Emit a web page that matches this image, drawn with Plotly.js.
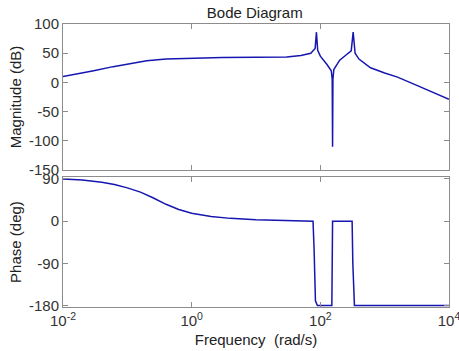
<!DOCTYPE html>
<html>
<head>
<meta charset="utf-8">
<script src="https://cdn.plot.ly/plotly-3.0.1.min.js"></script>
<style>html,body{margin:0;padding:0;background:#fff;}#chart{width:459px;height:351px;}</style>
</head>
<body>
<div id="chart"></div>
<script>
// Magnitude response (rad/s, dB)
const magFreq = [0.01, 0.02, 0.03, 0.06, 0.1, 0.2, 0.4, 1, 3, 10, 30, 50, 71, 83, 87, 91, 100, 126, 148, 153, 155, 157, 162, 200, 251, 302, 324, 347, 398, 603, 1000, 1585, 3162, 10000];
const magDb   = [10, 16, 20, 27, 31, 37, 40, 41.5, 42.5, 43, 43.5, 46, 50, 58, 86, 55, 45, 31, 20, 5, -110, 5, 22, 38, 47, 54, 86, 50, 40, 25, 16, 9, -5, -29];
// Phase response (rad/s, deg)
const phaseFreq = [0.01, 0.02, 0.04, 0.063, 0.1, 0.16, 0.25, 0.4, 0.63, 1, 2, 4, 10, 30, 77, 80, 84, 90, 151, 153, 155, 312, 320, 339, 10000];
const phaseDeg  = [90, 88, 83, 78, 71, 62, 50, 36, 25, 17, 10, 6, 3, 1, 0, -60, -170, -180, -180, -90, 0, 0, -90, -180, -180];
// Axis ticks
const freqTickVals = [0.01, 1, 100, 10000];
const freqTickText = ['10<sup>-2</sup>', '10<sup>0</sup>', '10<sup>2</sup>', '10<sup>4</sup>'];
const magTicks = [-150, -100, -50, 0, 50, 100];
const magTickText = ['-150', '-100', '-50', '0', '50', '100'];
const phaseTicks = [-180, -90, 0, 90];
const phaseTickText = ['-180', '-90', '0', '90'];

const lineColor = '#1616b0';
const frame = '#8c8c8c';
const fam = 'Liberation Sans, Arial, sans-serif';
const font = {family: fam, size: 15, color: '#333'};
const tfont = {family: fam, size: 15, color: '#222'};

const baseX = {
  type: 'log', range: [-2, 4.0001], tickvals: freqTickVals, ticktext: freqTickText,
  ticks: 'inside', ticklen: 5, tickcolor: frame, showline: true, linecolor: frame, linewidth: 1,
  mirror: 'ticks', showgrid: false, zeroline: false, ticklabeloverflow: 'allow'
};
const baseY = {
  ticks: 'inside', ticklen: 5, tickcolor: frame, showline: true, linecolor: frame, linewidth: 1,
  mirror: 'ticks', showgrid: false, zeroline: false
};

const data = [
  {x: magFreq, y: magDb, xaxis: 'x', yaxis: 'y', mode: 'lines', line: {color: lineColor, width: 1.5}},
  {x: phaseFreq, y: phaseDeg, xaxis: 'x2', yaxis: 'y2', mode: 'lines', line: {color: lineColor, width: 1.5}}
];

const layout = {
  width: 459, height: 351,
  margin: {l: 63, r: 10, t: 24, b: 44},
  paper_bgcolor: '#fff', plot_bgcolor: '#fff',
  showlegend: false,
  font: font,
  title: {text: 'Bode Diagram', x: 0.555, xanchor: 'center', y: 0.965, yanchor: 'middle', font: tfont},
  xaxis: Object.assign({}, baseX, {anchor: 'y', showticklabels: false}),
  yaxis: Object.assign({}, baseY, {domain: [0.484, 1], range: [-150, 100], tickvals: magTicks, ticktext: magTickText,
    title: {text: 'Magnitude (dB)', standoff: 3, font: tfont}}),
  xaxis2: Object.assign({}, baseX, {anchor: 'y2',
    title: {text: 'Frequency\u00a0\u00a0(rad/s)', standoff: 6, font: tfont}}),
  yaxis2: Object.assign({}, baseY, {domain: [0, 0.459], range: [-183, 94], tickvals: phaseTicks, ticktext: phaseTickText,
    title: {text: 'Phase (deg)', standoff: 3, font: tfont}})
};

Plotly.newPlot('chart', data, layout, {displayModeBar: false, staticPlot: true});
</script>
</body>
</html>
